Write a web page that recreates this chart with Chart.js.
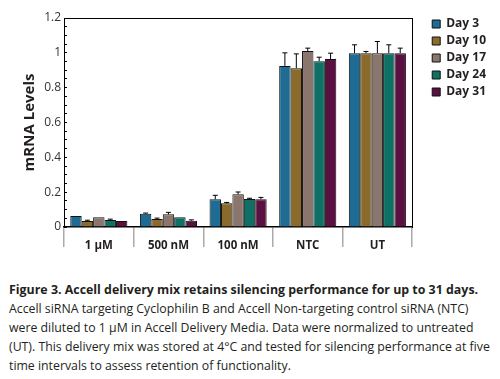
<!DOCTYPE html>
<html>
<head>
<meta charset="utf-8">
<script src="https://cdn.jsdelivr.net/npm/chart.js@4.4.0/dist/chart.umd.min.js"></script>
<style>
  body { margin: 0; background: #fff; }
  #wrap { position: relative; width: 500px; height: 379px; }
  #chartBox { position: absolute; left: 0; top: 0; width: 500px; height: 260px; }
  #caption {
    position: absolute; left: 9px; top: 280px; width: 490px;
    font-family: "Open Sans", sans-serif; font-size: 12.3px; line-height: 19px; color: #231f20;
  }
  #caption b { font-size: 12.4px; }
</style>
</head>
<body>
<div id="wrap">
  <div id="chartBox"><canvas id="myChart" width="500" height="260"></canvas></div>
  <div id="caption">
    <b>Figure 3. Accell delivery mix retains silencing performance for up to 31 days.</b><br>
    Accell siRNA targeting Cyclophilin B and Accell Non-targeting control siRNA (NTC)<br>
    were diluted to 1 µM in Accell Delivery Media. Data were normalized to untreated<br>
    (UT). This delivery mix was stored at 4°C and tested for silencing performance at five<br>
    time intervals to assess retention of functionality.
  </div>
</div>
<script>
const categories = ['1 µM', '500 nM', '100 nM', 'NTC', 'UT'];
const seriesNames = ['Day 3', 'Day 10', 'Day 17', 'Day 24', 'Day 31'];

const day3 = [0.063, 0.076, 0.159, 0.925, 0.998];
const day10 = [0.034, 0.046, 0.136, 0.912, 0.998];
const day17 = [0.056, 0.073, 0.188, 1.011, 0.998];
const day24 = [0.040, 0.056, 0.161, 0.952, 0.998];
const day31 = [0.034, 0.036, 0.159, 0.964, 0.998];

// upper error bars
const err3 = [0, 0.004, 0.023, 0.075, 0.048];
const err10 = [0.005, 0.005, 0.005, 0.082, 0.010];
const err17 = [0, 0.011, 0.013, 0.016, 0.067];
const err24 = [0.005, 0, 0.004, 0.023, 0.048];
const err31 = [0, 0.005, 0.011, 0.034, 0.029];

const yTicks = [0, 0.2, 0.4, 0.6, 0.8, 1, 1.2];

const colors = ['#1e6b94', '#8a6b2b', '#8b766d', '#0f7165', '#5a1040'];
const values = [day3, day10, day17, day24, day31];
const errors = [err3, err10, err17, err24, err31];

const errorBars = {
  id: 'errorBars',
  afterDatasetsDraw(chart) {
    const ctx = chart.ctx;
    const y = chart.scales.y;
    ctx.save();
    ctx.strokeStyle = '#000';
    ctx.lineWidth = 1;
    chart.data.datasets.forEach((ds, i) => {
      const meta = chart.getDatasetMeta(i);
      meta.data.forEach((bar, j) => {
        const e = ds.errors[j];
        if (!e) return;
        const top = y.getPixelForValue(ds.data[j] + e);
        ctx.beginPath();
        ctx.moveTo(bar.x, bar.y);
        ctx.lineTo(bar.x, top);
        ctx.moveTo(bar.x - 2.5, top);
        ctx.lineTo(bar.x + 2.5, top);
        ctx.stroke();
      });
    });
    ctx.restore();
  }
};

const ctx = document.getElementById('myChart').getContext('2d');
new Chart(ctx, {
  type: 'bar',
  data: {
    labels: categories,
    datasets: seriesNames.map((name, i) => ({
      label: name,
      data: values[i],
      errors: errors[i],
      backgroundColor: colors[i],
      borderColor: '#111',
      borderWidth: 1,
      categoryPercentage: 0.82,
      barPercentage: 1.0
    }))
  },
  options: {
    responsive: false,
    animation: false,
    layout: { padding: { left: 0, top: 13, right: 4, bottom: 0 } },
    plugins: {
      tooltip: { enabled: false },
      legend: {
        position: 'right',
        align: 'start',
        labels: {
          boxWidth: 8,
          boxHeight: 8,
          padding: 5,
          color: '#231f20',
          font: { family: 'Open Sans', size: 12, weight: 'bold' }
        }
      }
    },
    scales: {
      x: {
        grid: { offset: true, drawOnChartArea: false, drawTicks: true, tickLength: 20, color: '#aaa', lineWidth: 1.5 },
        border: { color: '#000', width: 1.5 },
        ticks: { padding: -8, color: '#231f20', font: { family: 'Open Sans', size: 11.5, weight: 'bold' } },
        afterFit(s) { s.height = 33; }
      },
      xTop: {
        position: 'top',
        type: 'category',
        labels: categories,
        grid: { display: false },
        border: { color: '#000', width: 1 },
        ticks: { display: false },
        afterFit(s) { s.height = 5; }
      },
      y: {
        min: 0,
        max: 1.2,
        grid: { drawOnChartArea: false, drawTicks: true, tickLength: -3, color: '#000' },
        border: { color: '#000', width: 1 },
        ticks: {
          stepSize: 0.05,
          autoSkip: false,
          padding: 6,
          color: '#333',
          font: { family: 'Open Sans', size: 12 },
          callback(v) {
            const hit = yTicks.find(t => Math.abs(t - v) < 1e-6);
            return hit === undefined ? '' : String(hit);
          }
        },
        title: {
          display: true,
          text: 'mRNA Levels',
          color: '#231f20',
          padding: { top: 21, bottom: 0 },
          font: { family: 'Open Sans', size: 15, weight: 'bold' }
        },
        afterFit(s) { s.width = 64; }
      },
      yRight: {
        position: 'right',
        min: 0,
        max: 1.2,
        grid: { display: false },
        border: { color: '#000', width: 1 },
        ticks: { display: false },
        afterFit(s) { s.width = 15; }
      }
    }
  },
  plugins: [errorBars]
});
</script>
</body>
</html>
